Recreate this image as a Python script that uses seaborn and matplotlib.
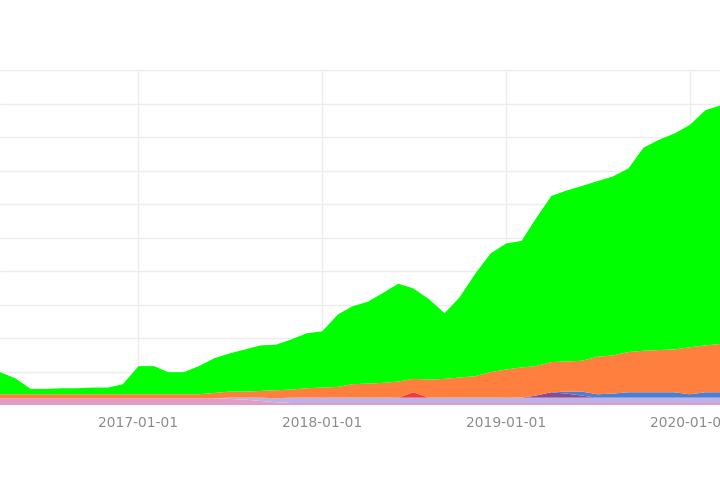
import numpy as np
import pandas as pd
import matplotlib
matplotlib.use("Agg")
import matplotlib.pyplot as plt
import matplotlib.dates as mdates
import seaborn as sns

months = pd.date_range("2016-04-01", periods=48, freq="MS")

pink = [10]*15 + [9, 8, 6, 4] + [3]*29
lavender = [0]*15 + [2, 3, 5, 6] + [8]*29
red = [0]*27 + [8] + [0]*20
purple = [0]*35 + [3, 8, 6, 3] + [0]*9
blue = [0]*37 + [3, 6, 5, 6, 8, 8, 8, 8, 5, 8, 8]
orange = [6]*14 + [8, 9, 9, 10, 12, 12, 14, 15, 16, 20, 21, 22, 24, 20, 27, 28,
                   30, 32, 38, 42, 45, 44, 45, 45, 46, 56, 57, 60, 62, 63, 64, 70, 70, 72]
green = [33, 24, 8, 8, 9, 9, 10, 10, 15, 42, 42, 33, 33, 42, 52, 57, 63, 68, 68, 75,
         82, 84, 108, 116, 122, 134, 146, 135, 120, 98, 120, 153, 177, 188, 189, 220,
         248, 255, 261, 262, 267, 274, 303, 314, 322, 332, 351, 356]

series = [pink, lavender, red, purple, blue, orange, green]
colors = ["#e39cc2", "#bdb2e8", "#f03c3c", "#8e4a8e", "#4a7fd4", "#ff7f3f", "#00ff00"]

sns.set_theme(style="whitegrid")
fig = plt.figure(figsize=(7.2, 4.8), dpi=100)
ax = fig.add_axes([0.0, 75/480, 1.0, 335/480])
ax.stackplot(months, *[np.array(s, dtype=float) for s in series], colors=colors,
             linewidth=0)

ax.set_xlim(months[0], months[-1])
ax.set_ylim(0, 500)
ax.set_yticks(np.arange(0, 501, 50))
ax.set_yticklabels([])
ax.xaxis.set_major_locator(mdates.YearLocator())
ax.xaxis.set_major_formatter(mdates.DateFormatter("%Y-%m-%d"))
ax.tick_params(axis="x", labelsize=10, colors="#8a8a8a", length=0, pad=8)
ax.tick_params(axis="y", length=0)
ax.grid(True, color="#ececec", linewidth=1)
ax.set_axisbelow(True)
for sp in ax.spines.values():
    sp.set_visible(False)
ax.set_facecolor("white")
fig.patch.set_facecolor("white")
fig.savefig("out.png", dpi=100)
